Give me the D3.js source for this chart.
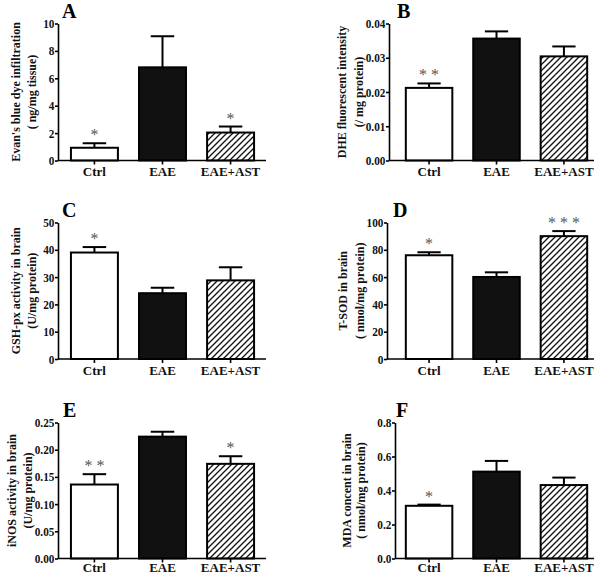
<!DOCTYPE html>
<html><head><meta charset="utf-8">
<script src="https://cdn.jsdelivr.net/npm/d3@7"></script>
<style>body{margin:0;background:#fff}svg{display:block}</style>
</head><body><svg id="c" width="600" height="575"></svg>
<script>
// ---- data ----
const categories = ["Ctrl", "EAE", "EAE+AST"];
const evansMean = [0.93, 6.8, 2.04];
const evansSem  = [0.33, 2.27, 0.44];
const evansStars = ["*", "", "*"];
const evansTicks = [0, 2, 4, 6, 8, 10];

const dheMean = [0.0212, 0.0356, 0.0304];
const dheSem  = [0.0013, 0.0021, 0.0029];
const dheStars = ["* *", "", ""];
const dheTicks = [0, 0.01, 0.02, 0.03, 0.04];

const gshMean = [39.0, 24.1, 28.8];
const gshSem  = [2.0, 2.0, 4.8];
const gshStars = ["*", "", ""];
const gshTicks = [0, 10, 20, 30, 40, 50];

const sodMean = [76.0, 60.1, 90.0];
const sodSem  = [2.2, 3.4, 3.7];
const sodStars = ["*", "", "* * *"];
const sodTicks = [0, 20, 40, 60, 80, 100];

const inosMean = [0.136, 0.224, 0.174];
const inosSem  = [0.019, 0.009, 0.014];
const inosStars = ["* *", "", "*"];
const inosTicks = [0, 0.05, 0.10, 0.15, 0.20, 0.25];

const mdaMean = [0.31, 0.511, 0.432];
const mdaSem  = [0.007, 0.063, 0.044];
const mdaStars = ["*", "", ""];
const mdaTicks = [0, 0.2, 0.4, 0.6, 0.8];

// ---- layout ----
const rows = [[23.5, 160.5], [222.5, 359], [422.5, 558.5]];
const rowPad = [2.5, 2.5, 0.5];
const cols = [
  {band: [58, 267], end: 266},
  {band: [393, 600], end: 594}
];
const panels = [
  {letter:"A", mean:evansMean, sem:evansSem, stars:evansStars, ticks:evansTicks, fmt:d3.format("d"),  t:["Evan's blue dye infiltration", "( ng/mg tissue)"], col:0, row:0, ax:58,  lx:62,  tx:[16, 32]},
  {letter:"B", mean:dheMean,   sem:dheSem,   stars:dheStars,   ticks:dheTicks,   fmt:d3.format(".2f"), t:["DHE fluorescent intensity", "(/ mg protein)"], col:1, row:0, ax:389, lx:397, tx:[342, 359]},
  {letter:"C", mean:gshMean,   sem:gshSem,   stars:gshStars,   ticks:gshTicks,   fmt:d3.format("d"),  t:["GSH-px activity in brain", "(U/mg protein)"], col:0, row:1, ax:58,  lx:62,  tx:[16, 32]},
  {letter:"D", mean:sodMean,   sem:sodSem,   stars:sodStars,   ticks:sodTicks,   fmt:d3.format("d"),  t:["T-SOD in brain", "( nmol/mg protein)"], col:1, row:1, ax:387, lx:393, tx:[343, 360]},
  {letter:"E", mean:inosMean,  sem:inosSem,  stars:inosStars,  ticks:inosTicks,  fmt:d3.format(".2f"), t:["iNOS activity in brain", "(U/mg protein)"], col:0, row:2, ax:58,  lx:63,  tx:[12, 28]},
  {letter:"F", mean:mdaMean,   sem:mdaSem,   stars:mdaStars,   ticks:mdaTicks,   fmt:d3.format(".1f"), t:["MDA concent in brain", "( nmol/mg protein)"], col:1, row:2, ax:395, lx:396, tx:[347, 361]}
];

const FONT = "'Liberation Serif','Times New Roman',serif";
const svg = d3.select("#c");
svg.append("rect").attr("width", 600).attr("height", 575).attr("fill", "#fff");

const defs = svg.append("defs");
const pat = defs.append("pattern").attr("id", "hatch")
  .attr("patternUnits", "userSpaceOnUse").attr("width", 6).attr("height", 6);
pat.append("rect").attr("width", 6).attr("height", 6).attr("fill", "#fff");
pat.append("path").attr("d", "M-1,1 l2,-2 M0,6 l6,-6 M5,7 l2,-2")
  .attr("stroke", "#111").attr("stroke-width", 1.3);

const fills = ["#fff", "#111", "url(#hatch)"];

panels.forEach(p => {
  const [top, bottom] = rows[p.row];
  const col = cols[p.col];
  const y = d3.scaleLinear().domain([0, p.ticks[p.ticks.length - 1]]).range([bottom, top]);
  const x = d3.scaleBand().domain(categories).range(col.band).paddingInner(0.31).paddingOuter(0.19);
  const g = svg.append("g");

  // bars
  g.selectAll("rect.bar").data(categories).join("rect")
    .attr("x", d => x(d)).attr("width", x.bandwidth())
    .attr("y", (d, i) => y(p.mean[i])).attr("height", (d, i) => y(0) - y(p.mean[i]))
    .attr("fill", (d, i) => fills[i]).attr("stroke", "#000").attr("stroke-width", 2);

  // error bars (upper)
  categories.forEach((c, i) => {
    const cx = x(c) + x.bandwidth() / 2;
    const yt = y(p.mean[i] + p.sem[i]);
    g.append("line").attr("x1", cx).attr("x2", cx).attr("y1", y(p.mean[i])).attr("y2", yt)
      .attr("stroke", "#000").attr("stroke-width", 2);
    g.append("line").attr("x1", cx - x.bandwidth() / 4).attr("x2", cx + x.bandwidth() / 4)
      .attr("y1", yt).attr("y2", yt).attr("stroke", "#000").attr("stroke-width", 2);
    if (p.stars[i]) {
      g.append("text").attr("x", cx).attr("y", yt - 3).attr("text-anchor", "middle")
        .attr("font-family", FONT).attr("font-size", 16).attr("fill", "#555")
        .attr("xml:space", "preserve").style("white-space", "pre")
        .text(p.stars[i]);
    }
  });

  // y axis
  const ya = g.append("g").attr("transform", `translate(${p.ax},0)`)
    .call(d3.axisLeft(y).tickValues(p.ticks).tickFormat(p.fmt).tickSize(3).tickSizeOuter(0).tickPadding(1));
  ya.select(".domain").attr("stroke-width", 1.6);
  ya.selectAll(".tick line").attr("stroke-width", 1.6);
  ya.selectAll("text").attr("font-family", FONT).attr("font-size", 12.5).attr("font-weight", "bold").attr("fill", "#111")
    .attr("transform", "scale(0.9,1)");

  // x axis
  const xa = g.append("g").attr("transform", `translate(0,${bottom})`)
    .call(d3.axisBottom(x).tickSize(4).tickSizeOuter(0).tickPadding(rowPad[p.row]));
  xa.select(".domain").remove();
  xa.selectAll(".tick line").attr("stroke-width", 1.6);
  xa.selectAll("text").attr("font-family", FONT).attr("font-size", 13).attr("font-weight", "bold").attr("fill", "#111");
  g.append("line").attr("x1", p.ax).attr("x2", col.end).attr("y1", bottom).attr("y2", bottom)
    .attr("stroke", "#000").attr("stroke-width", 1.6);

  // y title
  const cy = (top + bottom) / 2;
  p.t.forEach((line, k) => {
    g.append("text").attr("transform", `translate(${p.tx[k]},${cy}) rotate(-90)`)
      .attr("text-anchor", "middle").attr("dy", "0.35em")
      .attr("font-family", FONT).attr("font-size", 12).attr("font-weight", "bold").attr("fill", "#111")
      .text(line);
  });

  // panel letter
  g.append("text").attr("x", p.lx).attr("y", top - 6)
    .attr("font-family", FONT).attr("font-size", 20).attr("font-weight", "bold").attr("fill", "#000")
    .text(p.letter);
});
</script>
</body></html>
